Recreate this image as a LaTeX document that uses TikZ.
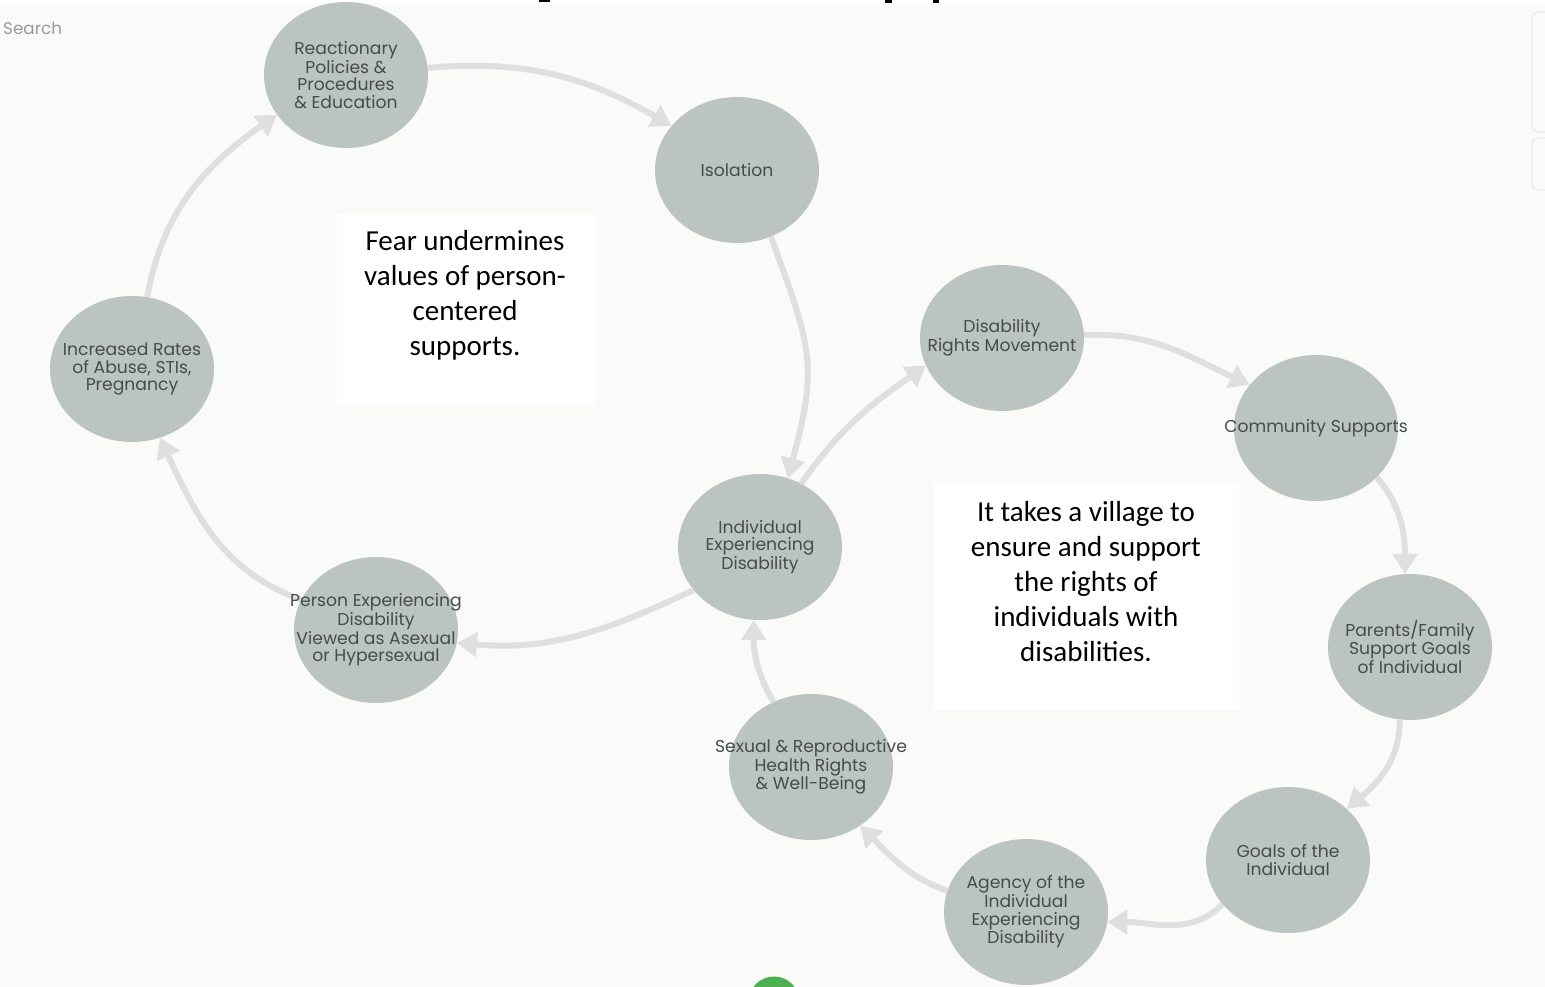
\documentclass[tikz,border=0pt]{standalone}
\usepackage{fontspec}
\setmainfont{Poppins}
\newfontfamily\calib{Carlito}
\usetikzlibrary{shapes.geometric,arrows.meta}
\definecolor{bg}{HTML}{FAFAF8}
\definecolor{nodefill}{HTML}{BCC4C2}
\definecolor{nodetext}{HTML}{474B4A}
\definecolor{arrowc}{HTML}{DEDFDE}
\definecolor{searchc}{HTML}{9A9A9A}
\definecolor{panelc}{HTML}{EAEAEA}
\definecolor{greenc}{HTML}{4CAF50}
\tikzset{
  bub/.style={ellipse, fill=nodefill, minimum width=164pt, minimum height=146pt, inner sep=0pt},
  lab/.style={text=nodetext, align=center, inner sep=0pt, font=\fontsize{17.2}{17.5}\selectfont},
  flow/.style={draw=arrowc, line width=6pt, -{Triangle[length=20pt,width=24pt]}},
  note/.style={fill=white, inner sep=0pt},
  notetext/.style={align=center, inner sep=0pt, text=black, font=\calib\fontsize{29}{35}\selectfont}
}
\begin{document}
\begin{tikzpicture}[x=1pt,y=1pt]
\useasboundingbox (0,0) rectangle (1545,-987);
\fill[white] (0,0) rectangle (1545,-987);
\fill[bg] (0,-3) rectangle (1545,-987);
% cut-off title remnants
\fill[black] (539,0) rectangle (550,-2.5);
\fill[black] (885,0) rectangle (892,-3);
\fill[black] (933,0) rectangle (939,-3);
% right panel edges
\draw[panelc, line width=1.2pt, rounded corners=6pt] (1532,-12) rectangle (1570,-132);
\draw[panelc, line width=1.2pt, rounded corners=6pt] (1532,-138) rectangle (1570,-190);
% search
\node[anchor=west, text=searchc, inner sep=0pt, font=\fontsize{16.8}{17}\selectfont] (search) at (3,-28) {Search};
% green circle
\node[circle, fill=greenc, minimum size=51pt, inner sep=0pt] (green) at (774,-1002) {};
% note boxes
\node[note, minimum width=258pt, minimum height=191pt] (fearbox) at (466,-309.5) {};
\node[notetext] (fear) at (465,-295) {Fear undermines\\values of person-\\centered\\supports.};
\node[note, minimum width=305pt, minimum height=227pt] (villbox) at (1086.5,-596.5) {};
\node[notetext] (vill) at (1086,-582) {It takes a village to\\ensure and support\\the rights of\\individuals with\\disabilities.};
% bubbles
\node[bub] (r) at (346,-75) {};
\node[bub] (iso) at (737,-170) {};
\node[bub] (inc) at (132,-369) {};
\node[bub] (per) at (376,-630) {};
\node[bub] (ind) at (760,-547) {};
\node[bub] (drm) at (1002,-338) {};
\node[bub] (com) at (1316,-428) {};
\node[bub] (par) at (1410,-647) {};
\node[bub] (goa) at (1288,-860) {};
\node[bub] (age) at (1026,-912) {};
\node[bub] (sex) at (811,-767) {};
% connectors
\draw[flow] (r.5) to[out=5,in=150] (iso.146);
\draw[flow] (iso.-63) to[out=-70,in=75,looseness=1.25] (ind.68);
\draw[flow] (ind.57) to[out=55,in=215] (drm.200);
\draw[flow] (drm.2) to[out=3,in=155] (com.147);
\draw[flow] (com.-39) to[out=-50,in=90] (par.94);
\draw[flow] (par.-98) to[out=-90,in=40] (goa.41);
\draw[flow] (goa.214) to[out=225,in=0] (age.-7);
\draw[flow] (age.165) to[out=160,in=-45] (sex.-50);
\draw[flow] (sex.120) to[out=120,in=-90] (ind.-95);
\draw[flow] (ind.213) to[out=205,in=-5] (per.-9);
\draw[flow] (per.158) to[out=160,in=-65] (inc.-68);
\draw[flow] (inc.78) to[out=80,in=215] (r.210);
% labels
\node[lab] (r-t) at (r) {Reactionary\\Policies \&\\Procedures\\\& Education};
\node[lab] (iso-t) at (iso) {Isolation};
\node[lab] (inc-t) at (inc) {Increased Rates\\of Abuse, STIs,\\Pregnancy};
\node[lab] (per-t) at (per) {Person Experiencing\\Disability\\Viewed as Asexual\\or Hypersexual};
\node[lab] (ind-t) at (ind) {Individual\\Experiencing\\Disability};
\node[lab] (drm-t) at (drm) {Disability\\Rights Movement};
\node[lab] (com-t) at (com) {Community Supports};
\node[lab] (par-t) at (par) {Parents/Family\\Support Goals\\of Individual};
\node[lab] (goa-t) at (goa) {Goals of the\\Individual};
\node[lab] (age-t) at (age) {Agency of the\\Individual\\Experiencing\\Disability};
\node[lab] (sex-t) at (sex) {Sexual \& Reproductive\\Health Rights\\\& Well-Being};
\end{tikzpicture}
\end{document}
